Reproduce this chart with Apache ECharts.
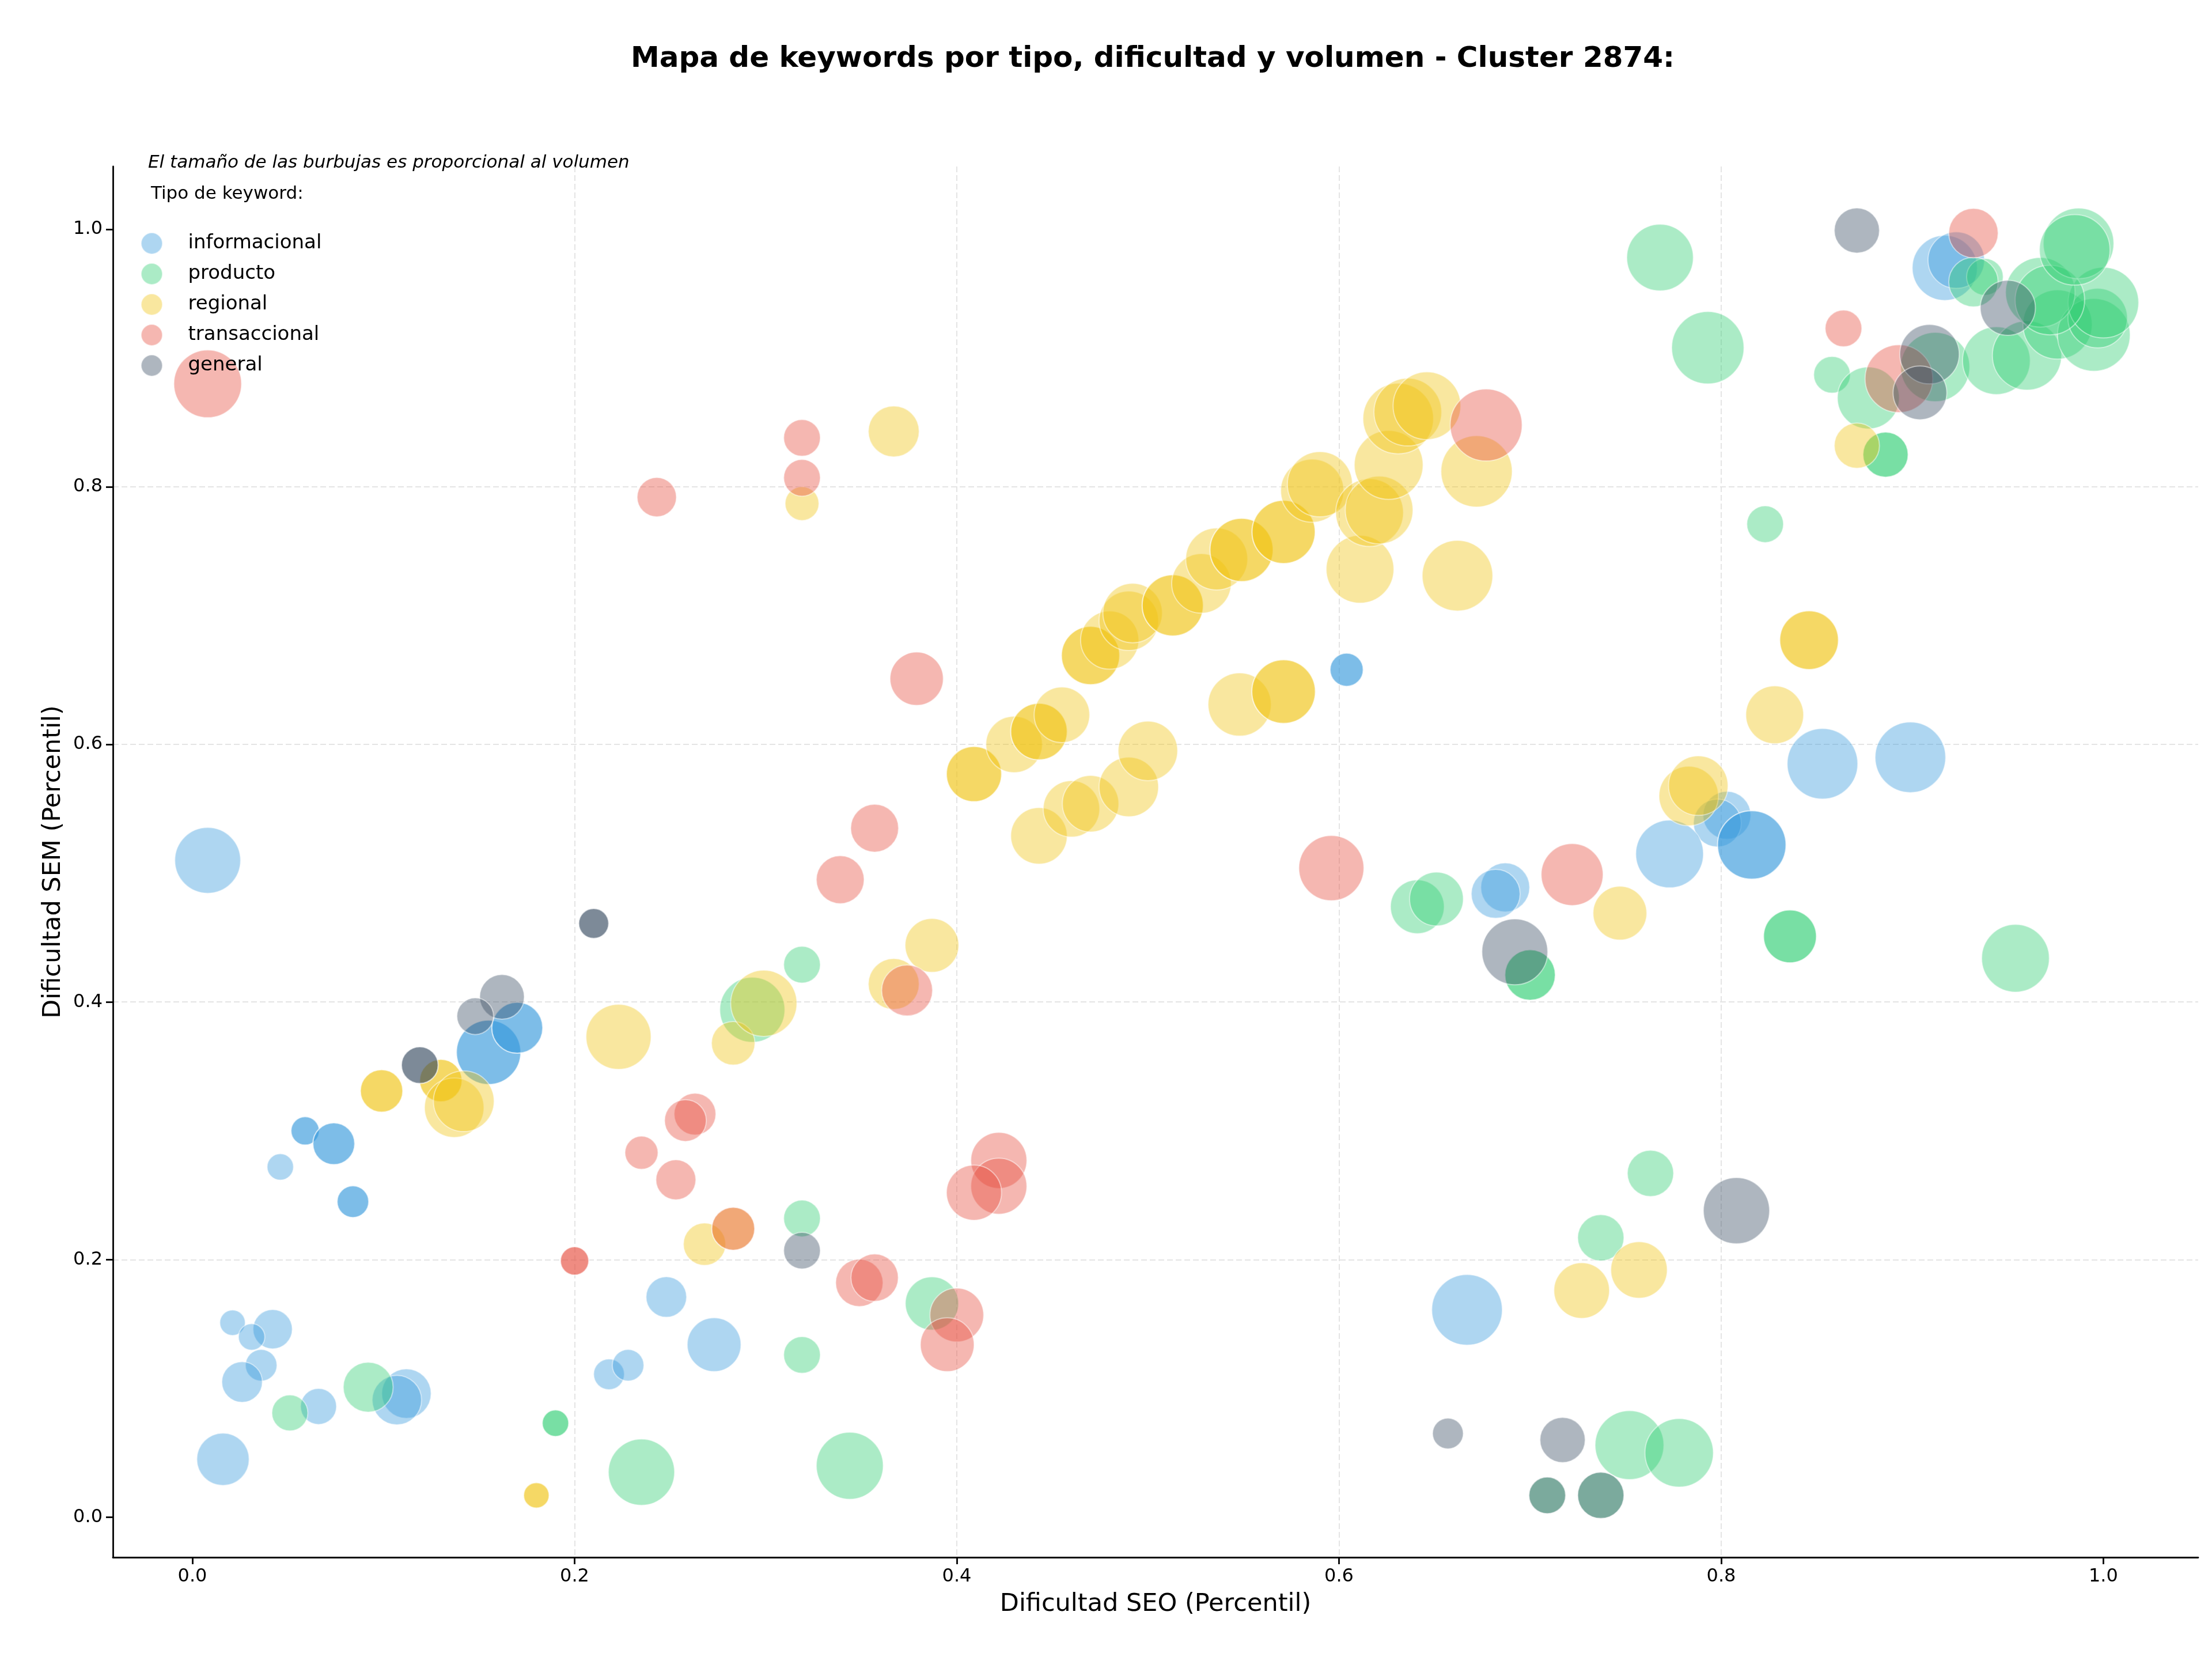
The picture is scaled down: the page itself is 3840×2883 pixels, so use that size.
<!DOCTYPE html>
<html>
<head>
<meta charset="utf-8">
<title>Mapa de keywords - Cluster 2874</title>
<script src="https://cdn.jsdelivr.net/npm/echarts@6/dist/echarts.min.js"></script>
<style>
  html, body { margin: 0; padding: 0; background: #fff; }
  #chart { width: 3840px; height: 2883px; }
</style>
</head>
<body>
<div id="chart"></div>
<script>
// cada punto: [dificultad SEO, dificultad SEM, volumen]
const informacional = [
  [0.008, 0.510, 8700], [0.155, 0.361, 8300], [0.155, 0.361, 8300], [0.170, 0.380, 5200], [0.170, 0.380, 5200],
  [0.059, 0.300, 1600], [0.059, 0.300, 1600], [0.074, 0.290, 3500], [0.074, 0.290, 3500], [0.046, 0.272, 1400],
  [0.084, 0.245, 2000], [0.084, 0.245, 2000], [0.021, 0.151, 1300], [0.042, 0.146, 3100], [0.031, 0.140, 1400],
  [0.036, 0.118, 2000], [0.026, 0.105, 3300], [0.066, 0.086, 2600], [0.016, 0.045, 5500], [0.112, 0.096, 4900],
  [0.107, 0.091, 4900], [0.218, 0.111, 1900], [0.228, 0.118, 2000], [0.248, 0.171, 3300], [0.273, 0.134, 5800],
  [0.604, 0.658, 2200], [0.604, 0.658, 2200], [0.667, 0.161, 10000], [0.687, 0.489, 4800], [0.682, 0.484, 4800],
  [0.853, 0.585, 10000], [0.899, 0.590, 10000], [0.803, 0.545, 4600], [0.798, 0.539, 4600], [0.816, 0.522, 9400],
  [0.816, 0.522, 9400], [0.773, 0.515, 9200], [0.917, 0.970, 8500], [0.923, 0.976, 6400]
];
const producto = [
  [0.092, 0.101, 5000], [0.051, 0.081, 2600], [0.190, 0.073, 1400], [0.190, 0.073, 1400], [0.235, 0.035, 8800],
  [0.344, 0.040, 9000], [0.293, 0.394, 8500], [0.319, 0.429, 2700], [0.319, 0.232, 2700], [0.319, 0.126, 2700],
  [0.387, 0.166, 5700], [0.641, 0.474, 5800], [0.651, 0.480, 5800], [0.700, 0.421, 5100], [0.700, 0.421, 5100],
  [0.836, 0.451, 5600], [0.836, 0.451, 5600], [0.954, 0.434, 9200], [0.737, 0.217, 4300], [0.763, 0.267, 4300],
  [0.752, 0.056, 9500], [0.778, 0.050, 9400], [0.709, 0.017, 2700], [0.737, 0.017, 4300], [0.768, 0.978, 8900],
  [0.793, 0.908, 10500], [0.823, 0.771, 2700], [0.886, 0.825, 4100], [0.886, 0.825, 4100], [0.858, 0.887, 2700],
  [0.877, 0.869, 7700], [0.912, 0.893, 9600], [0.944, 0.898, 9200], [0.960, 0.902, 9600], [0.976, 0.926, 9600],
  [0.995, 0.918, 10600], [0.997, 0.931, 7100], [1.000, 0.943, 10000], [0.967, 0.951, 9700], [0.972, 0.945, 9700],
  [0.987, 0.989, 10000], [0.985, 0.984, 10000], [0.938, 0.963, 2700], [0.932, 0.959, 4900]
];
const regional = [
  [0.099, 0.331, 3600], [0.099, 0.331, 3600], [0.130, 0.339, 3600], [0.130, 0.339, 3600], [0.137, 0.318, 7100],
  [0.142, 0.323, 7400], [0.180, 0.017, 1300], [0.180, 0.017, 1300], [0.223, 0.373, 8500], [0.283, 0.368, 3800],
  [0.299, 0.399, 8800], [0.268, 0.212, 3600], [0.283, 0.224, 3700], [0.319, 0.787, 2300], [0.367, 0.843, 5200],
  [0.387, 0.444, 5800], [0.367, 0.414, 5200], [0.409, 0.577, 6100], [0.409, 0.577, 6100], [0.430, 0.600, 6400],
  [0.443, 0.610, 6400], [0.443, 0.610, 6400], [0.455, 0.623, 6200], [0.443, 0.529, 6400], [0.460, 0.550, 6400],
  [0.470, 0.554, 6400], [0.490, 0.567, 7100], [0.500, 0.595, 7100], [0.470, 0.669, 6800], [0.470, 0.669, 6800],
  [0.480, 0.681, 6800], [0.490, 0.696, 7100], [0.492, 0.702, 7100], [0.513, 0.708, 7500], [0.513, 0.708, 7500],
  [0.528, 0.725, 7100], [0.536, 0.744, 7700], [0.549, 0.751, 8000], [0.549, 0.751, 8000], [0.571, 0.765, 8000],
  [0.571, 0.765, 8000], [0.548, 0.631, 8000], [0.571, 0.641, 8100], [0.571, 0.641, 8100], [0.586, 0.797, 8000],
  [0.590, 0.802, 8500], [0.611, 0.736, 9200], [0.616, 0.780, 9200], [0.621, 0.782, 9200], [0.626, 0.817, 9500],
  [0.631, 0.853, 10000], [0.636, 0.858, 9200], [0.646, 0.863, 9200], [0.662, 0.731, 10000], [0.672, 0.812, 10200],
  [0.727, 0.176, 6200], [0.757, 0.192, 6400], [0.747, 0.469, 5800], [0.783, 0.560, 7100], [0.788, 0.568, 7100],
  [0.828, 0.623, 6700], [0.846, 0.681, 6900], [0.846, 0.681, 6900], [0.871, 0.832, 4100]
];
const transaccional = [
  [0.008, 0.880, 9200], [0.243, 0.792, 3100], [0.319, 0.838, 2700], [0.319, 0.807, 2700], [0.379, 0.651, 5700],
  [0.357, 0.535, 4600], [0.339, 0.495, 4600], [0.374, 0.409, 5200], [0.200, 0.199, 1600], [0.200, 0.199, 1600],
  [0.263, 0.313, 3500], [0.258, 0.308, 3500], [0.235, 0.283, 2200], [0.253, 0.262, 3200], [0.283, 0.224, 3700],
  [0.349, 0.182, 4500], [0.357, 0.186, 4500], [0.400, 0.157, 5800], [0.395, 0.134, 5800], [0.422, 0.277, 6300],
  [0.422, 0.257, 6300], [0.409, 0.252, 6100], [0.596, 0.504, 8500], [0.722, 0.499, 7700], [0.677, 0.848, 10400],
  [0.864, 0.923, 2700], [0.893, 0.884, 9200], [0.932, 0.997, 4900]
];
const general = [
  [0.210, 0.461, 1800], [0.210, 0.461, 1800], [0.162, 0.404, 4000], [0.148, 0.389, 2700], [0.119, 0.351, 2700],
  [0.119, 0.351, 2700], [0.319, 0.207, 2700], [0.657, 0.065, 1900], [0.717, 0.060, 4100], [0.709, 0.017, 2700],
  [0.737, 0.017, 4300], [0.808, 0.238, 8800], [0.692, 0.439, 8700], [0.871, 0.999, 4100], [0.950, 0.939, 6100],
  [0.909, 0.903, 7100], [0.904, 0.873, 5800]
];

const tipos = ['informacional', 'producto', 'regional', 'transaccional', 'general'];
const puntos = [informacional, producto, regional, transaccional, general];
const colores = ['#3498db', '#2ecc71', '#f1c40f', '#e74c3c', '#34495e'];
const ticks = [0, 0.2, 0.4, 0.6, 0.8, 1.0];

const FONT = 'DejaVu Sans';

function rgba(hex, a) {
  let n = parseInt(hex.slice(1), 16);
  return 'rgba(' + (n >> 16) + ',' + ((n >> 8) & 255) + ',' + (n & 255) + ',' + a + ')';
}

// area de la burbuja proporcional al volumen
function tamano(v) {
  return Math.sqrt(v[2]) * 1.2245;
}

function eje(min, max) {
  return {
    type: 'value',
    min: min,
    max: max,
    axisLine: { show: true, onZero: false, lineStyle: { color: '#000', width: 2.8 } },
    axisTick: { show: true, length: 12, customValues: ticks, lineStyle: { color: '#000', width: 2.8 } },
    axisLabel: {
      customValues: ticks, fontSize: 32, color: '#000', fontFamily: FONT, margin: 18,
      formatter: v => v.toFixed(1)
    },
    splitLine: {
      show: true, showMinLine: false, showMaxLine: false,
      lineStyle: { color: '#e4e4e4', width: 2, type: [10, 5] }
    },
    nameTextStyle: { fontSize: 43, color: '#000', fontFamily: FONT }
  };
}

const chart = echarts.init(document.getElementById('chart'), null, { renderer: 'canvas' });

let xAxis = eje(-0.0416, 1.0496);
xAxis.name = 'Dificultad SEO (Percentil)';
xAxis.nameLocation = 'middle';
xAxis.nameGap = 60;

let yAxis = eje(-0.0311, 1.0487);
yAxis.name = 'Dificultad SEM (Percentil)';
yAxis.nameLocation = 'middle';
yAxis.nameGap = 82;

chart.setOption({
  backgroundColor: '#fff',
  animation: false,
  textStyle: { fontFamily: FONT },
  grid: { left: 196, right: 24, top: 289, bottom: 180, containLabel: false },
  xAxis: xAxis,
  yAxis: yAxis,
  legend: {
    orient: 'vertical', left: 244, top: 403, padding: 0,
    itemWidth: 116, itemHeight: 37, itemGap: 14, icon: 'circle',
    selectedMode: false,
    textStyle: { fontSize: 34, lineHeight: 37, color: '#000', fontFamily: FONT },
    data: tipos
  },
  graphic: [
    {
      type: 'text', x: 2001, y: 103,
      style: {
        text: 'Mapa de keywords por tipo, dificultad y volumen - Cluster 2874:',
        fontSize: 50, fontWeight: 'bold', fontFamily: FONT, fill: '#000',
        textAlign: 'center', textVerticalAlign: 'middle'
      }
    },
    {
      type: 'text', x: 257, y: 283,
      style: {
        text: 'El tamaño de las burbujas es proporcional al volumen',
        fontSize: 31, fontStyle: 'italic', fontFamily: FONT, fill: '#000',
        textAlign: 'left', textVerticalAlign: 'middle'
      }
    },
    {
      type: 'text', x: 262, y: 337,
      style: {
        text: 'Tipo de keyword:',
        fontSize: 31, fontFamily: FONT, fill: '#000',
        textAlign: 'left', textVerticalAlign: 'middle'
      }
    }
  ],
  series: tipos.map((t, i) => ({
    name: t,
    type: 'scatter',
    data: puntos[i],
    symbolSize: tamano,
    itemStyle: { color: rgba(colores[i], 0.5), borderColor: 'rgba(255,255,255,0.6)', borderWidth: 2 },
    emphasis: { disabled: true }
  }))
});
</script>
</body>
</html>
